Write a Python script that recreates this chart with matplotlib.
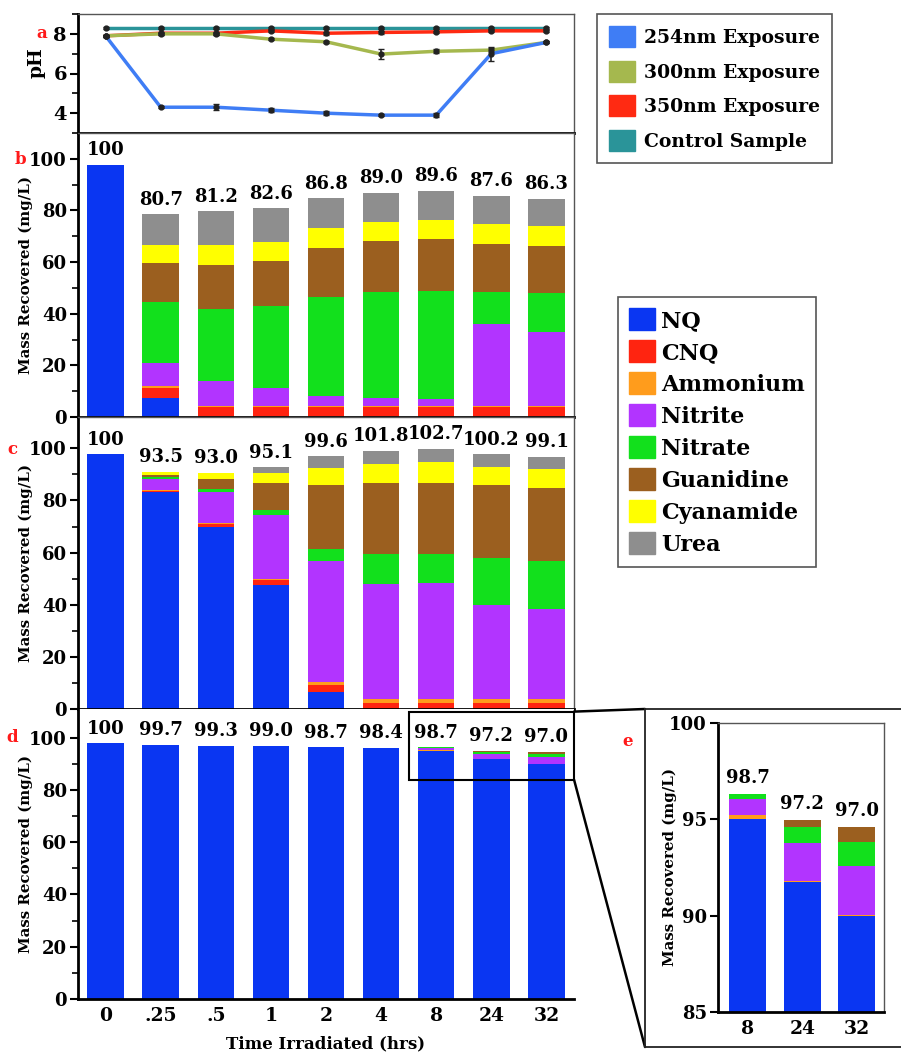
import numpy as np
import matplotlib.pyplot as plt
from matplotlib.patches import Patch, Rectangle, ConnectionPatch
from matplotlib.lines import Line2D

plt.rcParams['font.family'] = 'DejaVu Serif'
plt.rcParams['font.weight'] = 'bold'
plt.rcParams['axes.labelweight'] = 'bold'

times = ['0', '.25', '.5', '1', '2', '4', '8', '24', '32']

# panel a: pH
ph_254 = [7.9, 4.3, 4.3, 4.15, 4.0, 3.9, 3.9, 7.0, 7.57]
ph_254_err = [0.05, 0.06, 0.15, 0.1, 0.1, 0.05, 0.1, 0.35, 0.05]
ph_300 = [7.9, 8.0, 8.0, 7.73, 7.6, 6.98, 7.12, 7.18, 7.57]
ph_300_err = [0.05, 0.05, 0.05, 0.05, 0.05, 0.25, 0.1, 0.1, 0.05]
ph_350 = [7.9, 8.03, 8.03, 8.15, 8.03, 8.07, 8.1, 8.15, 8.15]
ph_350_err = [0.05, 0.08, 0.08, 0.05, 0.08, 0.08, 0.05, 0.05, 0.05]
ph_ctrl = [8.28, 8.28, 8.28, 8.28, 8.28, 8.28, 8.28, 8.28, 8.28]
ph_ctrl_err = [0.05, 0.05, 0.05, 0.05, 0.05, 0.05, 0.05, 0.05, 0.05]
ph_names = ['254nm Exposure', '300nm Exposure', '350nm Exposure', 'Control Sample']
ph_colors = ['#3f7df5', '#a5b84e', '#ff2a12', '#2a9499']

components = ['NQ', 'CNQ', 'Ammonium', 'Nitrite', 'Nitrate', 'Guanidine', 'Cyanamide', 'Urea']
comp_colors = ['#0a36f2', '#ff2410', '#ff9c1c', '#b234ff', '#12e01c', '#9b5f1f', '#ffff00', '#8e8e8e']

# panel b (254 nm)
b_nq = [97.7, 7.2, 0, 0, 0, 0, 0, 0, 0]
b_cnq = [0, 3.9, 3.8, 3.8, 3.8, 3.8, 3.8, 3.8, 3.8]
b_amm = [0, 0.9, 0.6, 0.6, 0.6, 0.6, 0.6, 0.6, 0.6]
b_nitrite = [0, 8.8, 9.7, 7.0, 3.9, 3.1, 2.4, 31.5, 28.4]
b_nitrate = [0, 23.9, 27.6, 31.6, 38.1, 41.1, 42.0, 12.7, 15.1]
b_guan = [0, 14.9, 17.2, 17.6, 19.2, 19.7, 20.2, 18.3, 18.5]
b_cyan = [0, 7.1, 7.8, 7.3, 7.5, 7.4, 7.4, 7.8, 7.4]
b_urea = [0, 11.9, 12.9, 13.0, 11.7, 11.2, 11.2, 11.0, 10.7]
b_labels = ['100', '80.7', '81.2', '82.6', '86.8', '89.0', '89.6', '87.6', '86.3']

# panel c (300 nm)
c_nq = [97.7, 83.2, 69.9, 47.7, 6.7, 0, 0, 0, 0]
c_cnq = [0, 0.4, 1.0, 1.8, 2.5, 2.4, 2.4, 2.4, 2.4]
c_amm = [0, 0.3, 0.4, 0.4, 1.3, 1.3, 1.3, 1.3, 1.3]
c_nitrite = [0, 4.3, 11.9, 24.7, 46.2, 44.4, 44.6, 36.3, 34.8]
c_nitrate = [0, 0.8, 1.3, 1.9, 4.7, 11.4, 11.2, 17.9, 18.2]
c_guan = [0, 0.7, 3.6, 10.3, 24.5, 27.3, 27.3, 27.9, 27.9]
c_cyan = [0, 1.3, 2.3, 3.8, 6.7, 7.3, 8.1, 7.0, 7.3]
c_urea = [0, 0, 0.1, 2.2, 4.4, 4.9, 5.0, 4.9, 4.8]
c_labels = ['100', '93.5', '93.0', '95.1', '99.6', '101.8', '102.7', '100.2', '99.1']

# panel d (350 nm), e is a zoom of the last three
d_nq = [97.9, 97.3, 96.9, 96.9, 96.3, 96.2, 95.0, 91.76, 89.98]
d_cnq = [0, 0, 0, 0, 0, 0, 0, 0, 0]
d_amm = [0, 0.1, 0, 0, 0, 0, 0.25, 0.05, 0.05]
d_nitrite = [0, 0, 0, 0, 0, 0, 0.8, 1.96, 2.56]
d_nitrate = [0, 0, 0, 0, 0, 0, 0.25, 0.81, 1.25]
d_guan = [0, 0, 0, 0, 0, 0, 0, 0.4, 0.78]
d_cyan = [0, 0, 0, 0, 0, 0, 0, 0, 0]
d_urea = [0, 0, 0, 0, 0, 0, 0, 0, 0]
d_labels = ['100', '99.7', '99.3', '99.0', '98.7', '98.4', '98.7', '97.2', '97.0']
zoom_start = 6  # bars shown again in panel e

W, H = 901, 1054


def pos(x0, y0, x1, y1):
    return [x0 / W, 1 - y1 / H, (x1 - x0) / W, (y1 - y0) / H]


def fxy(x, y):
    return (x / W, 1 - y / H)


def style(ax, full_box=True):
    ax.spines['left'].set_linewidth(2)
    ax.spines['bottom'].set_linewidth(2)
    for s in ['top', 'right']:
        if full_box:
            ax.spines[s].set_linewidth(1)
            ax.spines[s].set_color('#555555')
        else:
            ax.spines[s].set_visible(False)
    ax.tick_params(axis='y', which='major', length=6, width=1.5, labelsize=13, pad=2)
    ax.tick_params(axis='y', which='minor', length=4, width=1.2)
    ax.tick_params(axis='x', length=0)


def stacked(ax, x, parts, labels, width, offset):
    bottom = np.zeros(len(x))
    for vals, col in zip(parts, comp_colors):
        ax.bar(x, vals, width, bottom=bottom, color=col, linewidth=0)
        bottom = bottom + np.array(vals)
    for xi, top, lab in zip(x, bottom, labels):
        ax.annotate(lab, (xi, top), xytext=(0, offset), textcoords='offset points',
                    ha='center', va='bottom', fontsize=13, fontweight='bold',
                    annotation_clip=False)


fig = plt.figure(figsize=(W / 100, H / 100), dpi=100)
x = np.arange(len(times))

# a
ax_a = fig.add_axes(pos(78, 14, 574, 133))
for vals, err, col in zip([ph_ctrl, ph_350, ph_300, ph_254],
                          [ph_ctrl_err, ph_350_err, ph_300_err, ph_254_err],
                          [ph_colors[3], ph_colors[2], ph_colors[1], ph_colors[0]]):
    ax_a.plot(x, vals, color=col, lw=2.5, zorder=2)
    ax_a.errorbar(x, vals, yerr=err, fmt='o', color='#222222', ms=3.5, capsize=2.5,
                  elinewidth=1.2, zorder=3)
ax_a.set_xlim(-0.5, 8.5)
ax_a.set_ylim(3, 9)
ax_a.set_yticks([4, 6, 8])
ax_a.set_yticks([3, 5, 7, 9], minor=True)
ax_a.set_xticks([])
style(ax_a)
ax_a.tick_params(axis='y', labelsize=14)
ax_a.set_ylabel('pH', fontsize=13.5)
ax_a.yaxis.set_label_coords(-0.065, 0.59)

# b, c, d
panels = [
    (pos(78, 133, 574, 417), 110, [b_nq, b_cnq, b_amm, b_nitrite, b_nitrate, b_guan, b_cyan, b_urea], b_labels, True),
    (pos(78, 417, 574, 709), 112, [c_nq, c_cnq, c_amm, c_nitrite, c_nitrate, c_guan, c_cyan, c_urea], c_labels, True),
    (pos(78, 709, 574, 999), 111, [d_nq, d_cnq, d_amm, d_nitrite, d_nitrate, d_guan, d_cyan, d_urea], d_labels, False),
]
bar_axes = []
for rect, top, parts, labels, box in panels:
    ax = fig.add_axes(rect)
    stacked(ax, x, parts, labels, 0.66, 4)
    ax.set_xlim(-0.5, 8.5)
    ax.set_ylim(0, top)
    ax.set_yticks(np.arange(0, 101, 20))
    ax.set_yticks(np.arange(10, 101, 20), minor=True)
    ax.set_xticks(x)
    ax.set_xticklabels([])
    style(ax, box)
    ax.set_ylabel('Mass Recovered (mg/L)', fontsize=10.8)
    ax.yaxis.set_label_coords(-0.09, 0.5)
    bar_axes.append(ax)
ax_d = bar_axes[2]
ax_d.set_xticklabels(times, fontsize=13.5)
ax_d.tick_params(axis='x', pad=6)
ax_d.set_xlabel('Time Irradiated (hrs)', fontsize=12, labelpad=7)

# e
ax_e = fig.add_axes(pos(718, 723, 884, 1012))
xe = np.arange(len(times) - zoom_start)
stacked(ax_e, xe, [p[zoom_start:] for p in panels[2][2]], d_labels[zoom_start:], 0.68, 5)
ax_e.set_xlim(-0.55, 2.5)
ax_e.set_ylim(85, 100)
ax_e.set_yticks([85, 90, 95, 100])
ax_e.set_xticks(xe)
ax_e.set_xticklabels(times[zoom_start:], fontsize=13.5)
style(ax_e)
ax_e.tick_params(axis='x', pad=6)
ax_e.set_ylabel('Mass Recovered (mg/L)', fontsize=10.8)
ax_e.yaxis.set_label_coords(-0.245, 0.5)

# zoom box and connector lines
ax_d.add_patch(Rectangle((zoom_start - 0.5, 84), len(times) - zoom_start, 26, fill=False,
                         ec='black', lw=1.5, clip_on=False, zorder=5))
for yd, ye in [(110, 709), (84, 1047)]:
    fig.add_artist(ConnectionPatch((len(times) - 0.5, yd), fxy(645, ye), coordsA=ax_d.transData,
                                   coordsB=fig.transFigure, color='black', lw=1.8))
for (x0, y0), (x1, y1) in [((645, 709), (901, 709)), ((645, 709), (645, 1047)), ((645, 1047), (901, 1047))]:
    fig.add_artist(Line2D([x0 / W, x1 / W], [1 - y0 / H, 1 - y1 / H], color='#222222', lw=1.3))

# panel letters
for lab, px, py in [('a', 42, 33), ('b', 20, 159), ('c', 12, 449), ('d', 12, 737), ('e', 628, 742)]:
    fig.text(px / W, 1 - py / H, lab, color='#ff1a1a', fontsize=12, fontweight='bold',
             ha='center', va='center')

# legends
leg1 = fig.legend([Patch(color=c) for c in ph_colors], ph_names, loc='upper left',
                  bbox_to_anchor=fxy(597, 14), fontsize=13.5, fancybox=False, edgecolor='#555555',
                  handlelength=1.35, handleheight=1.35, labelspacing=0.72, handletextpad=0.5,
                  borderpad=0.65, borderaxespad=0, framealpha=1)
leg1.get_frame().set_linewidth(1.2)
leg2 = fig.legend([Patch(color=c) for c in comp_colors], components, loc='upper left',
                  bbox_to_anchor=fxy(618, 297), fontsize=16, fancybox=False, edgecolor='#555555',
                  handlelength=1.15, handleheight=1.15, labelspacing=0.38, handletextpad=0.28,
                  borderpad=0.5, borderaxespad=0, framealpha=1)
leg2.get_frame().set_linewidth(1.2)

fig.savefig('out.png', dpi=100)
